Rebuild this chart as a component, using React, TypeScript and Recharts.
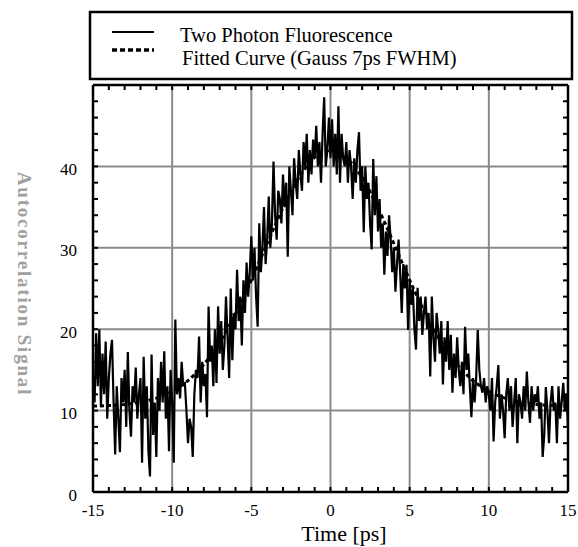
import { LineChart, Line, XAxis, YAxis, CartesianGrid } from 'recharts';

const W = 578;
const H = 547;
const PLOT_LEFT = 93;
const PLOT_RIGHT = 568;
const PLOT_TOP = 85;
const PLOT_BOTTOM = 492;
const PLOT_W = PLOT_RIGHT - PLOT_LEFT;
const PLOT_H = PLOT_BOTTOM - PLOT_TOP;
const SERIF = '"Liberation Serif", "Times New Roman", serif';

const xMajor = [-15, -10, -5, 0, 5, 10, 15];
const xMinor = [-15, -14, -13, -12, -11, -10, -9, -8, -7, -6, -5, -4, -3, -2, -1, 0, 1, 2, 3, 4, 5, 6, 7, 8, 9, 10, 11, 12, 13, 14, 15];
const yMajor = [0, 10, 20, 30, 40, 50];
const yLabelled = [0, 10, 20, 30, 40];
const yMinor = [0, 2, 4, 6, 8, 10, 12, 14, 16, 18, 20, 22, 24, 26, 28, 30, 32, 34, 36, 38, 40, 42, 44, 46, 48, 50];

// measured trace, sampled every 0.1 ps starting at -14.9 ps (one row = 1 ps)
const SIGNAL_START = -14.9;
const SIGNAL_STEP = 0.1;
const signalValues = [
  11, 19.5, 13, 20, 10.5, 17, 12, 18.5, 9, 14,
  17, 18.7, 11, 4.6, 13, 9, 4.9, 14, 11, 15,
  8, 17.2, 10, 6.8, 13, 11, 15.3, 9, 12, 14,
  3.6, 16.6, 9, 13, 5, 1.9, 16.9, 7, 11, 4.3,
  14, 10, 16, 11, 17.3, 9, 13, 5, 15, 11,
  3.6, 21.2, 12, 14, 11.5, 16, 13, 13.5, 10, 6,
  9, 8, 4.3, 12, 15, 14, 19.1, 11, 16, 13,
  14.5, 9.2, 22.8, 16, 18, 13, 20, 13.4, 22.8, 17,
  21, 15, 18, 24, 19, 14, 25, 16.2, 22, 20,
  27.3, 21, 24, 18, 26, 22, 28.2, 24, 27, 31.4,
  26, 30, 24, 20.3, 33, 27, 30, 35, 28, 31,
  36.3, 30, 33, 40.6, 34, 31, 37, 36, 33, 39,
  35, 38, 28.9, 40, 37, 34, 41, 38, 36, 42,
  39, 37, 43, 40, 44, 38, 42, 39, 43.3, 41,
  45, 40, 43, 38, 44, 48.5, 40, 42, 46, 41,
  45.8, 40, 44, 39, 47.4, 38, 44, 41, 40, 43,
  38, 42, 40, 36, 41, 38, 42, 44.2, 37, 40,
  31.9, 40, 36, 38, 33, 29.8, 40.9, 34, 38.8, 32,
  36, 30, 33, 26.7, 32, 29, 34, 31, 27, 30,
  24.6, 28, 31, 27, 22, 28, 25, 27.9, 19.9, 26,
  23, 25, 20, 17.5, 25.1, 21, 24, 19.3, 22, 24,
  20, 22, 14.2, 24, 19, 16, 22, 20, 17, 21,
  13.2, 19, 16, 21, 15, 19.3, 12.2, 17, 14, 19,
  15, 13, 16, 12, 20.3, 15, 17, 13, 9.2, 14,
  11, 14, 19.9, 15, 13, 12.2, 14, 11, 13, 12,
  10, 14, 6.2, 11, 13, 15.6, 9, 12, 10, 6.6,
  12, 14, 10, 13, 8, 11, 14, 6, 12, 11,
  9, 13, 10, 14.8, 11, 8.5, 13, 10, 12, 11,
  13, 9, 11, 4.3, 7, 12.9, 10, 6, 11, 13,
  10, 11, 6, 13, 9, 11, 13.4, 10, 12, 8,
];

// fitted curve, every 0.5 ps from -15 to 15
const FIT_START = -15;
const FIT_STEP = 0.5;
const fitValues = [
  10.55, 10.58, 10.62, 10.68, 10.76, 10.88, 11.04, 11.25, 11.53, 11.89,
  12.36, 12.95, 13.68, 14.58, 15.65, 16.92, 18.38, 20.03, 21.88, 23.89,
  26.03, 28.26, 30.53, 32.78, 34.92, 36.9, 38.63, 40.05, 41.12, 41.78,
  42.0,
  41.78, 41.12, 40.05, 38.63, 36.9, 34.92, 32.78, 30.53, 28.26, 26.03,
  23.89, 21.88, 20.03, 18.38, 16.92, 15.65, 14.58, 13.68, 12.95, 12.36,
  11.89, 11.53, 11.25, 11.04, 10.88, 10.76, 10.68, 10.62, 10.58, 10.55,
];

const signalData = signalValues.map((v, i) => ({ t: +(SIGNAL_START + i * SIGNAL_STEP).toFixed(2), v }));
const fitData = fitValues.map((v, i) => ({ t: FIT_START + i * FIT_STEP, v }));

const frame = { stroke: '#000', strokeWidth: 2.5 };

// bottom tick: inward mark at the bottom and the top of the frame, label on majors
const BottomTick = (p: any) => {
  const { x, y, payload } = p;
  const v = payload.value;
  return (
    <g>
      <line x1={x} y1={y} x2={x} y2={y - 5} stroke="#000" strokeWidth={2} />
      <line x1={x} y1={y - PLOT_H} x2={x} y2={y - PLOT_H + 5} stroke="#000" strokeWidth={2} />
      {xMajor.includes(v) && (
        <text x={x} y={y + 18} textAnchor="middle" dominantBaseline="central" fontSize={17} fontFamily={SERIF} fill="#000">
          {v}
        </text>
      )}
    </g>
  );
};

// left tick: inward mark at the left and the right of the frame, label on majors
const LeftTick = (p: any) => {
  const { x, y, payload } = p;
  const v = payload.value;
  return (
    <g>
      <line x1={x} y1={y} x2={x + 5} y2={y} stroke="#000" strokeWidth={2} />
      <line x1={x + PLOT_W} y1={y} x2={x + PLOT_W - 5} y2={y} stroke="#000" strokeWidth={2} />
      {yLabelled.includes(v) && (
        <text x={x - 16} y={y + 3} textAnchor="end" dominantBaseline="central" fontSize={17} fontFamily={SERIF} fill="#000">
          {v}
        </text>
      )}
    </g>
  );
};

export default function App() {
  return (
    <div style={{ position: 'absolute', left: 0, top: 0, width: W, height: H, background: '#fff' }}>
      <LineChart width={W} height={H} margin={{ top: PLOT_TOP - 1, right: W - PLOT_RIGHT - 1, bottom: 0, left: 0 }}>
        <CartesianGrid
          xAxisId="x"
          yAxisId="y"
          verticalValues={xMajor}
          horizontalValues={yMajor}
          stroke="#8a8a8a"
          strokeWidth={2}
        />
        <XAxis
          xAxisId="x"
          type="number"
          dataKey="t"
          domain={[-15, 15]}
          ticks={xMinor}
          interval={0}
          height={H - PLOT_BOTTOM}
          tickSize={0}
          tickMargin={0}
          tickLine={false}
          axisLine={frame}
          tick={BottomTick}
        />
        <YAxis
          yAxisId="y"
          type="number"
          domain={[0, 50]}
          ticks={yMinor}
          interval={0}
          width={PLOT_LEFT}
          tickSize={0}
          tickMargin={0}
          tickLine={false}
          axisLine={frame}
          tick={LeftTick}
        />
        <XAxis
          xAxisId="t"
          orientation="top"
          type="number"
          domain={[-15, 15]}
          height={1}
          tick={false}
          tickLine={false}
          axisLine={frame}
        />
        <YAxis
          yAxisId="yr"
          orientation="right"
          type="number"
          domain={[0, 50]}
          width={1}
          tick={false}
          tickLine={false}
          axisLine={frame}
        />
        <Line
          xAxisId="x"
          yAxisId="y"
          data={fitData}
          dataKey="v"
          type="linear"
          stroke="#000"
          strokeWidth={3}
          strokeDasharray="4 3"
          dot={false}
          isAnimationActive={false}
        />
        <Line
          xAxisId="x"
          yAxisId="y"
          data={signalData}
          dataKey="v"
          type="linear"
          stroke="#000"
          strokeWidth={2.2}
          dot={false}
          isAnimationActive={false}
        />
      </LineChart>
      <svg width={W} height={H} style={{ position: 'absolute', left: 0, top: 0, pointerEvents: 'none' }}>
        <rect x={90} y={12} width={482} height={67} fill="none" stroke="#000" strokeWidth={2.5} />
        <line x1={112} y1={32} x2={154} y2={32} stroke="#000" strokeWidth={2} />
        <line x1={112} y1={50} x2={154} y2={50} stroke="#000" strokeWidth={3.5} strokeDasharray="5 3" />
        <text x={180} y={42} fontSize={20.5} fontFamily={SERIF} fill="#000">Two Photon Fluorescence</text>
        <text x={182} y={65} fontSize={20.5} fontFamily={SERIF} fill="#000">Fitted Curve (Gauss 7ps FWHM)</text>
        <text x={344} y={541} fontSize={22} fontFamily={SERIF} fill="#000" textAnchor="middle">Time [ps]</text>
        <text
          x={24}
          y={284}
          fontSize={19}
          fontWeight="bold"
          letterSpacing={1.8}
          fontFamily={SERIF}
          fill="#a0a0a0"
          textAnchor="middle"
          dominantBaseline="central"
          transform="rotate(90 24 284)"
        >
          Autocorrelation Signal
        </text>
      </svg>
    </div>
  );
}
